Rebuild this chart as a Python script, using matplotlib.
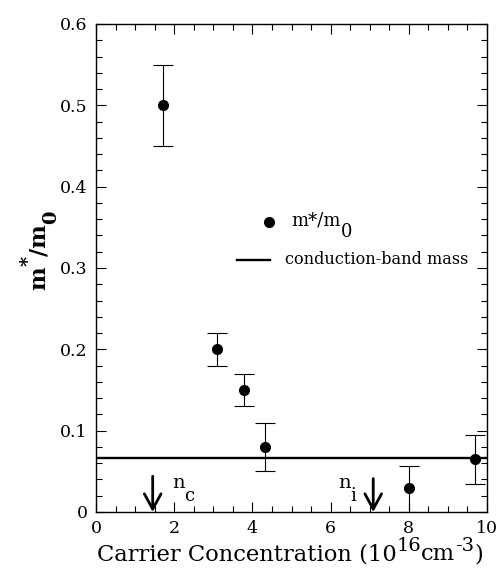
import matplotlib

matplotlib.use("Agg")
import matplotlib.pyplot as plt  # noqa: E402
from matplotlib.ticker import MultipleLocator  # noqa: E402

plt.rcParams["font.family"] = ["DejaVu Serif"]

# measured effective mass vs carrier concentration (1e16 cm^-3)
conc = [1.71, 3.09, 3.78, 4.31, 8.0, 9.69]
mass = [0.50, 0.20, 0.15, 0.08, 0.03, 0.065]
err_low = [0.05, 0.02, 0.02, 0.03, 0.03, 0.03]
err_high = [0.05, 0.02, 0.02, 0.03, 0.027, 0.03]

band_mass = 0.067
arrow_x = [1.45, 7.09]
arrow_top = [0.044, 0.041]
arrow_names = [("n", "c"), ("n", "i")]
arrow_label_x = [1.94, 6.19]

W, H = 503, 575


def draw_pieces(fig, x, y, pieces, ha="center", rotation=0, weight="normal"):
    """Place text pieces (text, rise_px, size) side by side at pixel (x, y), y from top."""
    renderer = fig.canvas.get_renderer()
    artists = []
    for text, _, size in pieces:
        artists.append(fig.text(0, 0, text, fontsize=size, va="baseline", ha="left",
                                rotation=rotation, rotation_mode="anchor", weight=weight))
    lengths = []
    for art in artists:
        box = art.get_window_extent(renderer)
        lengths.append(box.height if rotation == 90 else box.width)
    total = sum(lengths)
    pos = -total / 2 if ha == "center" else 0.0
    for art, (_, rise, _), length in zip(artists, pieces, lengths):
        if rotation == 90:
            px, py = x - rise, y - pos
        else:
            px, py = x + pos, y - rise
        art.set_position((px / W, 1 - py / H))
        pos += length
    return artists


fig = plt.figure(figsize=(W / 100, H / 100), dpi=100)
ax = fig.add_axes([96 / W, 1 - 512 / H, 391 / W, 488 / H])

ax.errorbar(conc, mass, yerr=[err_low, err_high], fmt="o", color="black",
            markersize=7, elinewidth=0.8, capsize=7.5, capthick=0.8)
ax.axhline(band_mass, color="black", lw=1.7)

for x, top in zip(arrow_x, arrow_top):
    ax.annotate("", xy=(x, 0.0), xytext=(x, top),
                arrowprops=dict(arrowstyle="->,head_length=0.55,head_width=0.3",
                                lw=2.0, color="black", mutation_scale=20,
                                shrinkA=0, shrinkB=0))

ax.set_xlim(0, 10)
ax.set_ylim(0, 0.6)
ax.xaxis.set_major_locator(MultipleLocator(2))
ax.xaxis.set_minor_locator(MultipleLocator(0.5))
ax.set_yticks([0, 0.1, 0.2, 0.3, 0.4, 0.5, 0.6],
              ["0", "0.1", "0.2", "0.3", "0.4", "0.5", "0.6"])
ax.yaxis.set_minor_locator(MultipleLocator(0.02))
ax.tick_params(which="both", direction="in", top=True, right=True, labelsize=12.5)
ax.tick_params(which="major", length=7, width=0.8, pad=6)
ax.tick_params(which="minor", length=4, width=0.8)
for spine in ax.spines.values():
    spine.set_linewidth(1.0)

fig.canvas.draw()


def to_px(xd, yd):
    px, py = ax.transData.transform((xd, yd))
    return px, H - py


# arrow labels n_c and n_i
for (main, sub), lx in zip(arrow_names, arrow_label_x):
    px, py = to_px(lx, 0.029)
    draw_pieces(fig, px, py, [(main, 0, 14), (sub, -13, 13)], ha="left")

# in-plot legend
ax.plot([4.43], [0.357], "o", color="black", markersize=7)
px, py = to_px(5.0, 0.357)
draw_pieces(fig, px, py + 4, [("m*/m", 0, 13), ("0", -11, 13)], ha="left")
ax.plot([3.6, 4.45], [0.31, 0.31], color="black", lw=1.7)
px, py = to_px(4.83, 0.31)
draw_pieces(fig, px, py + 4, [("conduction-band mass", 0, 11.6)], ha="left")

# axis labels
draw_pieces(fig, 290, 560, [("Carrier Concentration (10", 0, 16.3), ("16", 9, 14),
                            ("cm", 0, 16.3), ("-3", 9, 14), (")", 0, 16.3)])
draw_pieces(fig, 45, 250, [("m", 0, 16), ("*", 11, 14), ("/m", 0, 16), ("0", -11, 14)],
            rotation=90, weight="bold")

fig.savefig("out.png", dpi=100)
